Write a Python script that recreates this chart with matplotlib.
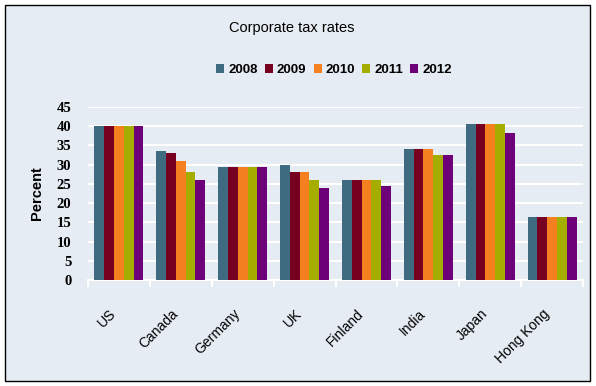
import numpy as np
import matplotlib.pyplot as plt
from matplotlib.patches import Rectangle
from matplotlib.transforms import ScaledTranslation

countries = ['US', 'Canada', 'Germany', 'UK', 'Finland', 'India', 'Japan', 'Hong Kong']
years = ['2008', '2009', '2010', '2011', '2012']
rates_2008 = [40, 33.5, 29.5, 30, 26, 34, 40.5, 16.3]
rates_2009 = [40, 33, 29.4, 28, 26, 34, 40.5, 16.3]
rates_2010 = [40, 31, 29.4, 28, 26, 34, 40.5, 16.3]
rates_2011 = [40, 28, 29.4, 26, 26, 32.5, 40.5, 16.3]
rates_2012 = [40, 26, 29.4, 24, 24.5, 32.5, 38.2, 16.3]
colors = ['#3E6B80', '#770020', '#F58020', '#A5AD00', '#6D0078']

plt.rcParams['font.family'] = ['Liberation Sans', 'DejaVu Sans']
bg = '#E6ECF3'

fig = plt.figure(figsize=(5.96, 3.86), dpi=100, facecolor='white')
fig.patches.append(Rectangle((5 / 596, 5 / 386), 585 / 596, 376 / 386,
                             transform=fig.transFigure, facecolor=bg,
                             edgecolor='black', linewidth=1, zorder=-10))

ax = fig.add_axes([88 / 596, 1 - 280 / 386, 495 / 596, 173 / 386])
ax.set_facecolor(bg)

series = [rates_2008, rates_2009, rates_2010, rates_2011, rates_2012]
x = np.arange(len(countries))
w = 0.158
for i, (vals, year) in enumerate(zip(series, years)):
    ax.bar(x + (i - 2) * w, vals, width=w, color=colors[i], label=year, zorder=3)

ax.set_xlim(-0.5, len(countries) - 0.5)
ax.set_ylim(0, 45)
ax.set_yticks(range(0, 50, 5))
ax.yaxis.grid(True, color='white', linewidth=1.5, zorder=1)
ax.tick_params(axis='y', length=0, pad=12)
for lab in ax.get_yticklabels():
    lab.set_fontfamily('Liberation Serif')
    lab.set_fontweight('bold')
    lab.set_fontsize(10.5)

# category boundary ticks on x axis
ax.set_xticks(np.arange(-0.5, len(countries), 1.0))
ax.set_xticklabels([])
ax.tick_params(axis='x', direction='out', length=5, width=1.5, color='white')
ax.set_xticks(x, minor=True)
ax.set_xticklabels(countries, minor=True, rotation=45, ha='right', va='top',
                   rotation_mode='anchor', fontsize=10)
ax.tick_params(axis='x', which='minor', length=0, pad=19)
shift = ScaledTranslation(-10 / 100, 0, fig.dpi_scale_trans)
for lab in ax.get_xticklabels(minor=True):
    lab.set_transform(lab.get_transform() + shift)

for s in ['top', 'right', 'left']:
    ax.spines[s].set_visible(False)
ax.spines['bottom'].set_color('white')
ax.spines['bottom'].set_linewidth(1.5)

ax.set_ylabel('Percent', fontsize=10.5, fontweight='bold', labelpad=9)

fig.text(292 / 596, 1 - 28 / 386, 'Corporate tax rates', ha='center', va='center',
         fontsize=10.5)
fig.legend(loc='center', bbox_to_anchor=(334 / 596, 1 - 70 / 386), ncol=5,
           frameon=False, handlelength=0.6, handleheight=0.6, handletextpad=0.3,
           columnspacing=0.55, prop={'size': 9.5, 'weight': 'bold'})

fig.savefig('out.png', dpi=100, facecolor='white')
